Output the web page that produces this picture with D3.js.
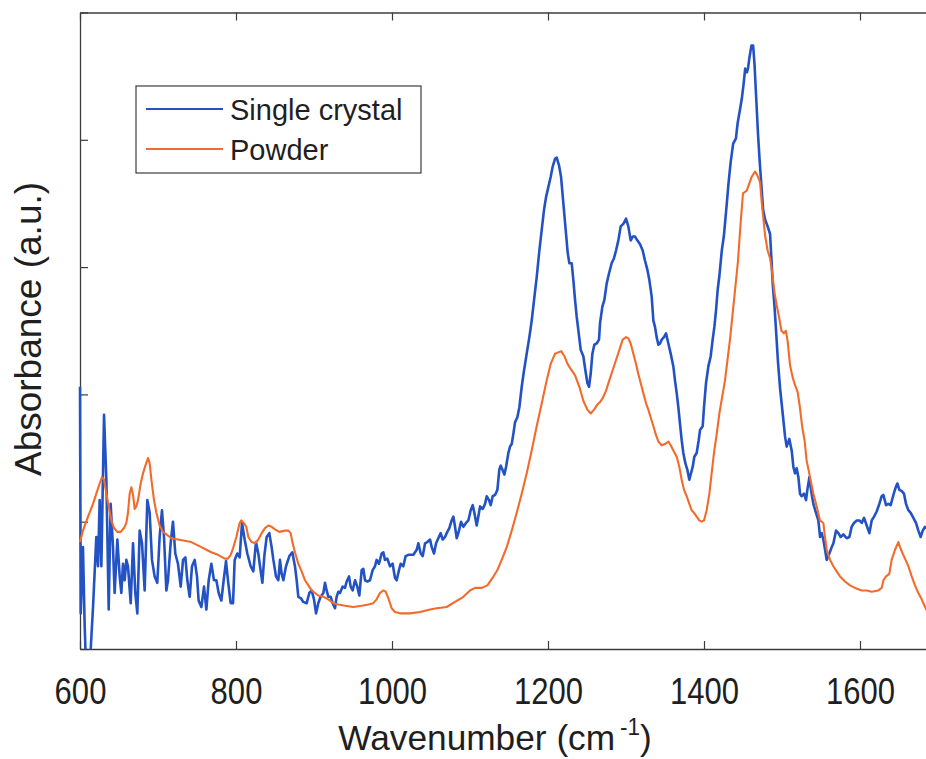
<!DOCTYPE html>
<html>
<head>
<meta charset="utf-8">
<script src="https://cdn.jsdelivr.net/npm/d3@7"></script>
<style>
  body { margin: 0; background: #fff; }
  svg { display: block; }
  text { font-family: "Liberation Sans", Arial, Helvetica, sans-serif; fill: #1f1f1f; }
</style>
</head>
<body>
<svg id="chart" width="926" height="759"></svg>
<script>
// wavenumber (cm-1), absorbance (a.u.)
var crystal = [
  [600,2.06],[600.9,0.28],[603.8,0.80],[606,0.18],[608.1,-0.2],[612.4,-0.15],[616.7,0.33],[620.9,0.88],
  [623.1,0.65],[625.2,1.17],[627.4,0.65],[630.8,1.84],[633.8,1.33],[636.8,0.31],[639.3,1.14],[642.3,0.80],
  [644.4,0.44],[647.9,0.86],[650.9,0.57],[653,0.44],[655.1,0.67],[657.3,0.54],[659.4,0.70],[661.5,0.65],
  [665,0.36],[668,0.83],[670.9,0.44],[673.5,0.28],[676.5,0.93],[679.5,0.83],[682.9,0.46],[686.3,1.17],
  [689.3,1.07],[692.3,0.70],[695.7,0.57],[699.1,0.52],[702.1,0.88],[705.1,1.09],[707.7,0.88],[710.7,0.46],
  [712.8,0.54],[716.2,0.83],[719.2,1.00],[722.2,0.75],[725.6,0.67],[729.1,0.49],[732.1,0.70],[735.1,0.72],
  [737.6,0.54],[740.6,0.41],[743.6,0.65],[747,0.70],[750,0.57],[752.1,0.38],[755.6,0.33],[759,0.49],
  [762,0.31],[765,0.54],[768.4,0.67],[771.8,0.54],[774.8,0.54],[777.8,0.44],[781.2,0.38],[784.2,0.54],
  [787.2,0.69],[789.7,0.54],[793.2,0.36],[796.2,0.36],[798.3,0.70],[801.7,0.75],[804.7,0.72],[807.7,0.99],
  [811.1,0.86],[814.5,0.75],[818.8,0.65],[822.2,0.61],[825.6,0.84],[828.6,0.75],[830.8,0.65],[833.8,0.52],
  [836.3,0.73],[839.3,0.88],[842.7,0.91],[845.7,0.80],[847.9,0.70],[851.3,0.57],[854.3,0.54],[856.4,0.70],
  [858.5,0.59],[860.7,0.54],[864.1,0.65],[868.4,0.73],[872.2,0.76],[875.6,0.65],[877.8,0.54],[879.9,0.41],
  [882.9,0.40],[886.3,0.37],[890.6,0.36],[894,0.44],[897,0.46],[900,0.39],[902.6,0.28],[905.5,0.36],
  [908.5,0.41],[912,0.44],[914.1,0.52],[916.2,0.46],[918.4,0.41],[921.4,0.41],[923.9,0.36],[926.9,0.32],
  [929,0.41],[931.2,0.45],[933.3,0.44],[936.7,0.49],[939.7,0.48],[941.9,0.53],[944.9,0.57],[947,0.49],
  [949.6,0.46],[952.6,0.54],[955.5,0.49],[958.1,0.42],[961.1,0.62],[963.2,0.63],[965.4,0.54],[968.4,0.53],
  [971.8,0.54],[975.2,0.62],[978.2,0.65],[980.3,0.70],[983.3,0.67],[986.7,0.75],[988.9,0.76],[991,0.70],
  [994,0.71],[997.4,0.65],[1000.8,0.67],[1003.8,0.56],[1006,0.54],[1009,0.62],[1011.1,0.67],[1014.5,0.65],
  [1017.5,0.73],[1020.9,0.74],[1027.4,0.74],[1031.7,0.78],[1033.8,0.83],[1036.8,0.75],[1039.4,0.73],[1042.4,0.83],
  [1045.3,0.84],[1048.8,0.86],[1050.9,0.80],[1053.9,0.75],[1056.5,0.83],[1059.4,0.87],[1062.4,0.91],[1065,0.86],
  [1068,0.88],[1070.1,0.91],[1073.5,0.95],[1076.5,1.01],[1078.7,1.04],[1080.8,0.96],[1083,0.87],[1085.9,0.93],
  [1088.5,1.00],[1091.5,0.96],[1094.9,0.99],[1097.9,1.01],[1100.9,1.09],[1103.5,1.13],[1105.6,1.07],[1108.6,0.97],
  [1110.7,1.04],[1112.9,1.12],[1116.3,1.10],[1119.3,1.14],[1121.4,1.20],[1124.4,1.17],[1126.5,1.13],[1129.1,1.20],
  [1132.1,1.21],[1135.1,1.25],[1137.6,1.41],[1139.4,1.44],[1141.5,1.41],[1144.1,1.37],[1146.2,1.43],[1149.2,1.54],
  [1151.3,1.59],[1153.5,1.61],[1155.6,1.69],[1157.7,1.78],[1160.7,1.82],[1163.3,1.90],[1166.3,2.06],[1169.3,2.19],
  [1172.7,2.32],[1176.1,2.45],[1179.1,2.58],[1182.1,2.74],[1185.5,2.92],[1188.9,3.13],[1191.9,3.29],[1194.9,3.45],
  [1197.5,3.55],[1200.5,3.63],[1203.5,3.71],[1206,3.79],[1209,3.85],[1211.2,3.86],[1214.1,3.80],[1216.7,3.71],
  [1219.7,3.50],[1222.7,3.29],[1225.3,3.11],[1227.4,3.03],[1230.4,3.03],[1232.5,2.90],[1234.7,2.74],[1236.8,2.61],
  [1239.4,2.48],[1241.9,2.35],[1245.3,2.30],[1247.9,2.19],[1250.5,2.09],[1252.6,2.06],[1254.7,2.16],[1256.9,2.32],
  [1259.4,2.39],[1262.4,2.40],[1265.4,2.43],[1266.7,2.56],[1269.7,2.69],[1272.2,2.74],[1275.2,2.87],[1278.2,2.95],
  [1281.6,3.03],[1284.6,3.07],[1287.2,3.13],[1290.2,3.21],[1293.2,3.32],[1296.6,3.34],[1300,3.38],[1303,3.32],
  [1306,3.21],[1308.6,3.24],[1311.6,3.24],[1314.5,3.21],[1318,3.18],[1321.4,3.13],[1324.4,3.05],[1327.4,2.98],
  [1329.9,2.90],[1332.9,2.77],[1335.1,2.58],[1337.2,2.53],[1339.3,2.45],[1341.5,2.39],[1343.6,2.40],[1345.7,2.43],
  [1348.7,2.45],[1351.3,2.48],[1354.3,2.40],[1357.3,2.32],[1360.7,2.22],[1362.8,2.11],[1365,2.01],[1367.1,1.90],
  [1369.2,1.77],[1371.4,1.64],[1373.5,1.54],[1376.1,1.46],[1378.6,1.41],[1381.2,1.33],[1383.3,1.38],[1385.5,1.43],
  [1387.6,1.51],[1390.6,1.54],[1393.2,1.64],[1394.9,1.72],[1398.3,1.75],[1400,1.90],[1402.6,2.09],[1405.6,2.22],
  [1408.6,2.30],[1411.1,2.43],[1413.3,2.53],[1415.4,2.66],[1417.5,2.82],[1419.7,2.93],[1422.8,3.13],[1425.4,3.24],
  [1428.5,3.45],[1431.6,3.67],[1434.3,3.83],[1437.4,3.97],[1440.9,4.01],[1443.1,4.13],[1446.2,4.24],[1448.4,4.32],
  [1450.6,4.43],[1452.8,4.56],[1455,4.53],[1456.4,4.56],[1458.1,4.64],[1460.8,4.74],[1463,4.74],[1464.8,4.59],
  [1467,4.32],[1469.2,4.05],[1471.4,3.83],[1473.6,3.64],[1475.8,3.45],[1478.5,3.37],[1481.6,3.32],[1484.7,3.26],
  [1486.4,3.07],[1488.2,2.86],[1490.4,2.69],[1492.6,2.48],[1494.8,2.26],[1497.5,2.05],[1500.9,1.85],[1503.9,1.67],
  [1506,1.59],[1509.4,1.65],[1512.4,1.56],[1514.6,1.43],[1516.7,1.38],[1518.8,1.42],[1521,1.35],[1523.1,1.22],
  [1525.2,1.20],[1528.2,1.22],[1530.8,1.17],[1532.5,1.25],[1535.1,1.35],[1536.8,1.27],[1538.5,1.20],[1540.2,1.14],
  [1543.6,1.07],[1546.6,1.01],[1548.8,0.88],[1550.9,0.91],[1553,0.86],[1555.2,0.78],[1557.3,0.70],[1560.7,0.75],
  [1563.7,0.80],[1565.9,0.83],[1569.3,0.93],[1572.3,0.91],[1575.2,0.88],[1578.7,0.90],[1582.9,0.87],[1586.4,0.88],
  [1589.3,0.96],[1592.3,0.99],[1595.8,1.01],[1599.2,1.01],[1602.2,0.99],[1605.2,1.03],[1608.6,0.97],[1612,0.91],
  [1615,1.01],[1618,1.04],[1621.4,1.08],[1624.8,1.14],[1627.8,1.20],[1630,1.21],[1633.4,1.13],[1636.4,1.14],
  [1639.3,1.13],[1642.8,1.21],[1645.8,1.27],[1647.9,1.30],[1650.5,1.25],[1653.5,1.24],[1656.4,1.22],[1659,1.14],
  [1662,1.09],[1665,1.07],[1668.4,1.03],[1671.8,0.99],[1674.8,0.93],[1677.8,0.88],[1680.4,0.93],[1683.4,0.96],
  [1686,0.95]
];

var powder = [
  [600,0.84],[603.8,0.93],[610.3,1.04],[616.7,1.14],[620.9,1.22],[625.2,1.30],[628.2,1.35],[630.8,1.33],
  [633.8,1.22],[636.8,1.12],[640.2,1.01],[643.6,0.95],[647.9,0.92],[652.1,0.92],[656.4,0.95],[659.4,0.99],
  [661.5,1.07],[663.7,1.22],[665.8,1.27],[668,1.21],[670.1,1.10],[672.2,1.12],[674.4,1.17],[677.8,1.30],
  [680.8,1.38],[683.8,1.44],[687.2,1.50],[689.3,1.46],[691.5,1.33],[694.9,1.17],[697.9,1.07],[702.1,0.97],
  [706.4,0.92],[710.7,0.90],[717.1,0.87],[725.6,0.86],[734.2,0.85],[742.7,0.84],[749.1,0.82],[755.6,0.80],
  [762,0.78],[768.4,0.76],[776.9,0.74],[785.5,0.71],[789.7,0.71],[793.2,0.74],[796.2,0.79],[800.4,0.88],
  [804.7,0.99],[806.8,1.01],[809.8,0.99],[813.2,0.96],[815.8,0.88],[820.1,0.84],[824.4,0.83],[828.6,0.86],
  [832.9,0.91],[837.2,0.95],[841.4,0.97],[845.7,0.96],[850,0.94],[855.5,0.92],[862.8,0.93],[867.1,0.93],
  [870.1,0.91],[872.6,0.83],[875.6,0.76],[879.9,0.67],[884.2,0.61],[888.5,0.54],[892.7,0.50],[897,0.46],
  [901.3,0.44],[905.5,0.42],[912,0.41],[918.4,0.39],[924.8,0.36],[931.2,0.35],[939.7,0.34],[950.4,0.33],
  [961.1,0.34],[969.6,0.35],[976,0.36],[980.3,0.39],[984.6,0.44],[988.9,0.46],[991.9,0.45],[995.3,0.40],
  [999.6,0.32],[1003.8,0.29],[1010.2,0.28],[1023.1,0.28],[1035.9,0.29],[1048.8,0.31],[1057.3,0.32],[1070.1,0.33],
  [1080.8,0.37],[1091.5,0.41],[1100,0.46],[1106.5,0.48],[1115,0.48],[1122.3,0.50],[1129.1,0.56],[1135.1,0.62],
  [1140.6,0.70],[1147.1,0.80],[1153.5,0.93],[1159.9,1.07],[1166.3,1.22],[1172.7,1.38],[1179.1,1.56],[1185.5,1.75],
  [1192,1.93],[1198.3,2.11],[1203.5,2.24],[1209,2.32],[1217,2.34],[1221,2.30],[1225,2.24],[1229.1,2.20],
  [1234.7,2.15],[1240.2,2.06],[1245.3,1.95],[1250.5,1.88],[1254.7,1.85],[1259,1.88],[1263.3,1.92],[1266.7,1.94],
  [1270.1,1.97],[1274.4,2.03],[1278.6,2.11],[1282.9,2.19],[1287.2,2.27],[1291.5,2.35],[1295.7,2.43],[1300,2.45],
  [1303,2.44],[1306,2.40],[1309.4,2.32],[1312.8,2.24],[1315.8,2.16],[1318.8,2.09],[1322.2,2.01],[1325.7,1.93],
  [1328.6,1.88],[1331.6,1.82],[1335.1,1.75],[1338.5,1.68],[1341.5,1.63],[1345.7,1.60],[1350,1.61],[1354.3,1.63],
  [1357.3,1.60],[1360.7,1.56],[1365,1.51],[1368.4,1.43],[1371.4,1.33],[1374.4,1.25],[1377.8,1.20],[1381.2,1.14],
  [1384.2,1.09],[1387.2,1.07],[1390.6,1.04],[1394,1.01],[1397,1.00],[1400,1.01],[1403.4,1.09],[1406.9,1.22],
  [1409.8,1.38],[1412.8,1.54],[1416.3,1.69],[1419.7,1.85],[1426.9,2.11],[1433.3,2.43],[1438.5,2.74],[1443.6,3.05],
  [1447,3.35],[1450,3.58],[1454.8,3.60],[1461.2,3.71],[1465.4,3.75],[1467.6,3.73],[1471.8,3.67],[1474,3.51],
  [1475.8,3.40],[1478.5,3.24],[1481.6,3.13],[1484.7,3.07],[1487.3,2.96],[1490.4,2.80],[1493.5,2.69],[1496.2,2.61],
  [1499.3,2.50],[1502.4,2.48],[1505,2.50],[1507.2,2.42],[1510.3,2.23],[1513.8,2.13],[1516.9,2.07],[1520,2.02],
  [1522.7,1.91],[1525.8,1.75],[1528.9,1.64],[1531.6,1.48],[1535.9,1.35],[1540.2,1.22],[1544.5,1.12],[1548.7,1.01],
  [1553,0.99],[1555.1,0.88],[1557.3,0.78],[1561.6,0.70],[1565.8,0.65],[1570.1,0.61],[1574.4,0.57],[1580.8,0.53],
  [1587.2,0.50],[1593.6,0.48],[1602.2,0.46],[1608.6,0.46],[1615,0.45],[1623.5,0.46],[1627.8,0.48],[1630,0.54],
  [1633.4,0.57],[1637.6,0.59],[1640.6,0.70],[1644.9,0.78],[1649.2,0.84],[1651.3,0.80],[1654.7,0.75],[1657.7,0.71],
  [1662,0.65],[1666.3,0.57],[1670.5,0.50],[1674.8,0.44],[1679.1,0.39],[1683.4,0.33],[1686,0.30]
];

var seriesNames = ["Single crystal", "Powder"];
var seriesColors = ["#2352c4", "#f36b2b"];
var xTicks = [600, 800, 1000, 1200, 1400, 1600];
var yTicks = [0, 1, 2, 3, 4, 5];

var svg = d3.select("#chart");
var plotLeft = 80, plotRight = 926.3, plotTop = 12.5, plotBottom = 649;

var x = d3.scaleLinear().domain([600, 1685]).range([plotLeft, plotRight]);
var y = d3.scaleLinear().domain([0, 5]).range([plotBottom, plotTop]);

function styleAxis(g){
  g.select(".domain").attr("stroke", "#3c3c3c").attr("stroke-width", 1.3);
  g.selectAll(".tick line").attr("stroke", "#3c3c3c").attr("stroke-width", 1.2);
}

svg.append("g")
  .attr("transform", "translate(0," + plotBottom + ")")
  .call(d3.axisBottom(x).tickValues(xTicks).tickSizeInner(-8).tickSizeOuter(0).tickPadding(29).tickFormat(d3.format("d")))
  .call(styleAxis)
  .call(g => g.selectAll(".tick text")
    .attr("font-size", 37)
    .attr("transform", "scale(0.84,1)")
    .attr("font-family", "Liberation Sans, Arial, sans-serif")
    .attr("fill", "#1f1f1f"));

svg.append("g")
  .attr("transform", "translate(0," + plotTop + ")")
  .call(d3.axisTop(x).tickValues(xTicks).tickSizeInner(-8).tickSizeOuter(0).tickFormat(""))
  .call(styleAxis);

svg.append("g")
  .attr("transform", "translate(" + plotLeft + ",0)")
  .call(d3.axisLeft(y).tickValues(yTicks).tickSizeInner(-8).tickSizeOuter(0).tickFormat(""))
  .call(styleAxis);

// spectra, drawn over the box and clipped to it
svg.append("defs").append("clipPath").attr("id", "plotclip")
  .append("rect")
  .attr("x", plotLeft - 2).attr("y", plotTop)
  .attr("width", plotRight - plotLeft + 2).attr("height", plotBottom - plotTop);

var line = d3.line().x(d => x(d[0])).y(d => y(d[1]));

var plot = svg.append("g").attr("clip-path", "url(#plotclip)");

plot.append("path")
  .datum(crystal)
  .attr("fill", "none")
  .attr("stroke", seriesColors[0])
  .attr("stroke-width", 2.6)
  .attr("stroke-linejoin", "round")
  .attr("d", line);

plot.append("path")
  .datum(powder)
  .attr("fill", "none")
  .attr("stroke", seriesColors[1])
  .attr("stroke-width", 2.1)
  .attr("stroke-linejoin", "round")
  .attr("d", line);

// axis titles
var xTitle = svg.append("text")
  .attr("transform", "translate(495,750) scale(0.98,1)")
  .attr("text-anchor", "middle")
  .attr("font-size", 36)
  .text("Wavenumber (cm");
xTitle.append("tspan").attr("font-size", 23).attr("dy", -15).attr("dx", 5).text("-1");
xTitle.append("tspan").attr("dy", 15).text(")");

svg.append("text")
  .attr("transform", "translate(41,329) rotate(-90)")
  .attr("text-anchor", "middle")
  .attr("font-size", 37)
  .text("Absorbance (a.u.)");

// legend
var legend = svg.append("g").attr("class", "legend");
legend.append("rect")
  .attr("x", 136).attr("y", 86)
  .attr("width", 285).attr("height", 87)
  .attr("fill", "#fff")
  .attr("stroke", "#3c3c3c")
  .attr("stroke-width", 1.2);

var items = legend.selectAll("g.item")
  .data(seriesNames)
  .enter()
  .append("g")
  .attr("class", "item")
  .attr("transform", (d, i) => "translate(0," + (109 + i * 40) + ")");

items.append("line")
  .attr("x1", 146).attr("x2", 223)
  .attr("y1", 0).attr("y2", 0)
  .attr("stroke", (d, i) => seriesColors[i])
  .attr("stroke-width", 1.8);

items.append("text")
  .attr("x", 230).attr("y", 11)
  .attr("font-size", 29)
  .text(d => d);
</script>
</body>
</html>
